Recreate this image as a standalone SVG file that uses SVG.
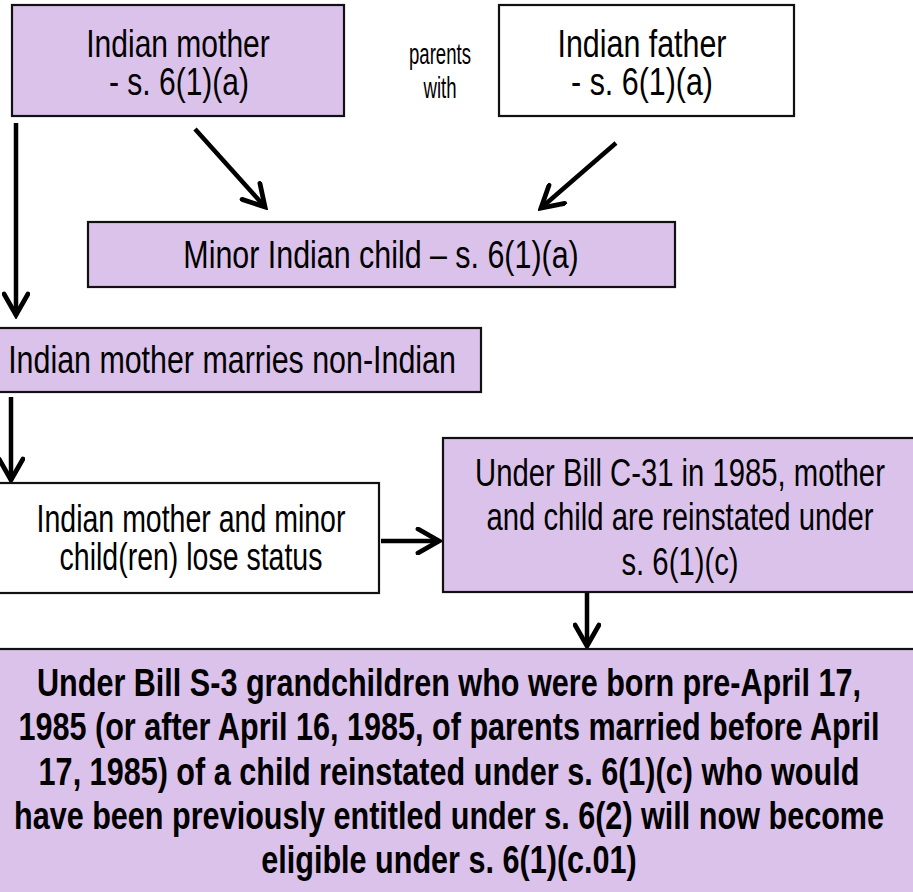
<svg xmlns="http://www.w3.org/2000/svg" width="913" height="892" viewBox="0 0 913 892">
<style>
.box{stroke:#111;stroke-width:2.2}
.lav{fill:#dbc2ea}
.wht{fill:#fff}
.t{font-family:"Liberation Sans",Arial,sans-serif;font-size:38px;fill:#000;text-anchor:middle}
.t.small{font-size:30px}
.b{font-weight:bold;font-size:38px}
.arr{stroke:#000;stroke-width:4.5;fill:none;marker-end:url(#ah)}
</style>
<defs>
<marker id="ah" markerUnits="userSpaceOnUse" viewBox="-24 -14 28 28" markerWidth="28" markerHeight="28" refX="0" refY="0" orient="auto">
<path d="M-21,-12 L0,0 L-21,12" fill="none" stroke="#000" stroke-width="4.8" stroke-linecap="round" stroke-linejoin="miter"/>
</marker>
</defs>
<rect width="913" height="892" fill="#fff"/>
<g id="connectors">
<line class="arr" x1="16" y1="123" x2="16" y2="315"/>
<line class="arr" x1="195" y1="129" x2="265" y2="207"/>
<line class="arr" x1="616" y1="143" x2="541" y2="208"/>
<line class="arr" x1="11" y1="397" x2="11" y2="480"/>
<line class="arr" x1="381" y1="541" x2="439" y2="541"/>
<line class="arr" x1="587" y1="593" x2="587" y2="646"/>
</g>
<g id="mother">
<rect class="box lav" x="12" y="5" width="332" height="111"/>
<text class="t" transform="translate(178,57) scale(0.79,1)">Indian mother</text>
<text class="t" transform="translate(179,95) scale(0.79,1)">- s. 6(1)(a)</text>
</g>
<g id="parents-with">
<text class="t small" transform="translate(440,64) scale(0.62,1)">parents</text>
<text class="t small" transform="translate(440,98) scale(0.62,1)">with</text>
</g>
<g id="father">
<rect class="box wht" x="499" y="5" width="295" height="111"/>
<text class="t" transform="translate(642,57) scale(0.8,1)">Indian father</text>
<text class="t" transform="translate(642,95) scale(0.8,1)">- s. 6(1)(a)</text>
</g>
<g id="child">
<rect class="box lav" x="88" y="222" width="587" height="65"/>
<text class="t" transform="translate(381,268) scale(0.8,1)">Minor Indian child – s. 6(1)(a)</text>
</g>
<g id="marries">
<rect class="box lav" x="-2" y="328" width="483" height="64"/>
<text class="t" transform="translate(232,373) scale(0.8,1)">Indian mother marries non-Indian</text>
</g>
<g id="lose">
<rect class="box wht" x="-2" y="483" width="381" height="110"/>
<text class="t" transform="translate(191,532) scale(0.75,1)">Indian mother and minor</text>
<text class="t" transform="translate(191,570) scale(0.75,1)">child(ren) lose status</text>
</g>
<g id="reinstated">
<rect class="box lav" x="443" y="438" width="475" height="154"/>
<text class="t" transform="translate(680,486) scale(0.77,1)">Under Bill C-31 in 1985, mother</text>
<text class="t" transform="translate(680,530) scale(0.77,1)">and child are reinstated under</text>
<text class="t" transform="translate(680,575) scale(0.77,1)">s. 6(1)(c)</text>
</g>
<g id="s3">
<rect class="box lav" x="-3" y="649" width="920" height="250"/>
<text class="t b" transform="translate(449,696) scale(0.805,1)">Under Bill S-3 grandchildren who were born pre-April 17,</text>
<text class="t b" transform="translate(449,740) scale(0.805,1)">1985 (or after April 16, 1985, of parents married before April</text>
<text class="t b" transform="translate(449,785) scale(0.805,1)">17, 1985) of a child reinstated under s. 6(1)(c) who would</text>
<text class="t b" transform="translate(449,829) scale(0.805,1)">have been previously entitled under s. 6(2) will now become</text>
<text class="t b" transform="translate(449,873) scale(0.805,1)">eligible under s. 6(1)(c.01)</text>
</g>
</svg>
